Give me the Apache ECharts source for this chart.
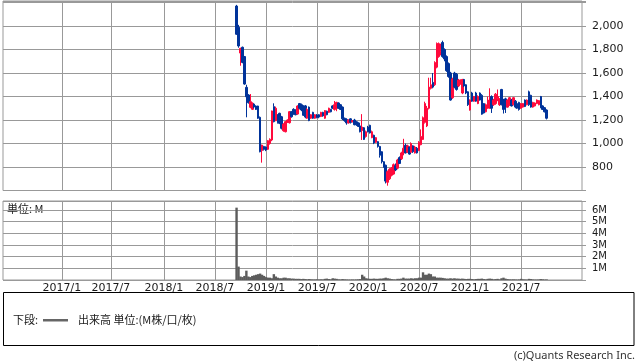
<!DOCTYPE html>
<html><head><meta charset="utf-8">
<script src="https://cdn.jsdelivr.net/npm/echarts@6/dist/echarts.min.js"></script>
<style>html,body{margin:0;padding:0;background:#fff}#c{width:638px;height:362px}</style>
</head><body><div id="c"></div>
<script>
// weekly slots of the x axis
const axisStart = '2016-06-08';
const weekCount = 296;
const firstCandleWeek = '2018-09-19';
const tickLabels = ['2017/1','2017/7','2018/1','2018/7','2019/1','2019/7','2020/1','2020/7','2021/1','2021/7'];
const priceLabels = [800, 1000, 1200, 1400, 1600, 1800, 2000];
const volumeLabels = [1, 2, 3, 4, 5, 6];

// weekly OHLC (yen) and volume (M)
const opens = [2170,1990,1770,1819,1740,1478,1413,1308,1291,1336,1319,1319,1223,940,975,970,951,1000,1030,1314,1194,1243,1257,1228,1109,1100,1180,1177,1271,1291,1285,1251,1340,1330,1320,1320,1215,1310,1215,1265,1215,1243,1245,1230,1265,1215,1275,1265,1290,1320,1290,1300,1345,1330,1310,1215,1205,1175,1210,1185,1200,1185,1175,1150,1110,1134,1060,1140,1155,1050,1070,1010,1016,975,930,845,815,670,700,730,740,810,790,880,870,920,985,925,970,925,980,920,960,940,990,1035,1180,1150,1300,1470,1520,1500,1650,1740,1780,1860,1800,1740,1680,1600,1390,1600,1590,1490,1510,1430,1545,1500,1440,1285,1430,1360,1430,1340,1430,1410,1340,1270,1300,1300,1400,1330,1340,1380,1330,1460,1370,1380,1310,1330,1370,1330,1360,1340,1350,1300,1310,1370,1330,1440,1410,1310,1320,1340,1330,1400,1320,1305,1285];
const closes = [1930,1830,1810,1690,1506,1398,1347,1356,1342,1310,1290,1215,930,987,950,945,1024,1036,1277,1186,1300,1177,1172,1129,1166,1186,1200,1271,1228,1251,1245,1319,1300,1285,1240,1225,1290,1195,1245,1215,1245,1220,1225,1265,1235,1280,1245,1300,1270,1300,1330,1350,1300,1290,1210,1195,1175,1200,1180,1195,1160,1160,1145,1100,1140,1035,1100,1100,1090,1100,1005,1050,975,900,845,800,680,760,780,790,820,775,860,830,920,960,920,980,910,1000,930,970,920,1010,1060,1220,1340,1300,1480,1500,1480,1690,1850,1850,1810,1740,1720,1620,1570,1370,1550,1480,1460,1540,1540,1545,1490,1430,1330,1370,1360,1400,1360,1400,1370,1250,1260,1330,1370,1390,1300,1370,1420,1400,1380,1330,1290,1310,1370,1390,1320,1390,1310,1300,1290,1340,1340,1315,1370,1330,1310,1350,1345,1370,1365,1310,1290,1270,1215];
const lows = [1925,1815,1662,1683,1500,1223,1340,1300,1285,1300,1285,1210,925,837,940,935,945,990,1020,1180,1190,1170,1165,1120,1100,1095,1175,1170,1220,1245,1240,1245,1290,1275,1235,1215,1210,1190,1210,1210,1210,1215,1215,1225,1228,1210,1240,1260,1265,1295,1280,1275,1295,1285,1200,1185,1160,1170,1170,1180,1155,1150,1140,1095,1030,1030,1050,1095,1085,1045,995,1005,965,880,830,795,660,641,690,720,735,765,780,825,860,900,915,920,905,920,920,915,915,935,985,1030,1170,1140,1290,1460,1470,1490,1640,1730,1750,1730,1700,1610,1560,1365,1380,1470,1450,1480,1500,1420,1480,1420,1320,1280,1355,1355,1355,1335,1365,1245,1255,1265,1295,1295,1260,1320,1330,1360,1320,1325,1255,1260,1305,1320,1315,1325,1300,1295,1280,1295,1305,1310,1325,1320,1305,1305,1315,1335,1325,1300,1285,1265,1205];
const highs = [2180,2010,1815,1825,1745,1500,1420,1421,1350,1340,1325,1322,1230,990,980,975,1030,1044,1280,1342,1314,1250,1262,1235,1172,1190,1205,1275,1275,1300,1290,1325,1345,1340,1325,1328,1300,1315,1250,1270,1250,1250,1250,1270,1270,1285,1280,1305,1295,1325,1362,1355,1350,1335,1315,1220,1215,1205,1215,1200,1210,1190,1180,1160,1250,1140,1110,1150,1160,1110,1075,1055,1020,980,935,850,820,770,790,800,830,830,870,890,930,1040,1000,990,975,1010,985,980,970,1020,1120,1230,1356,1320,1560,1560,1600,1700,1860,1860,1850,1875,1810,1750,1690,1610,1560,1610,1600,1550,1545,1550,1550,1505,1445,1375,1440,1405,1440,1410,1435,1420,1345,1340,1400,1470,1410,1380,1430,1460,1385,1465,1380,1390,1375,1395,1380,1395,1370,1350,1355,1345,1345,1375,1375,1450,1415,1355,1350,1375,1370,1405,1325,1310,1290];
const volumes = [6.2,1.15,0.3,0.25,0.35,0.8,0.3,0.25,0.35,0.4,0.45,0.5,0.55,0.45,0.35,0.25,0.2,0.2,0.15,0.5,0.3,0.2,0.15,0.15,0.2,0.2,0.15,0.15,0.12,0.12,0.1,0.1,0.1,0.08,0.1,0.08,0.06,0.08,0.06,0.05,0.05,0.06,0.05,0.06,0.05,0.1,0.12,0.08,0.06,0.15,0.12,0.1,0.06,0.05,0.08,0.06,0.05,0.04,0.04,0.05,0.04,0.05,0.06,0.08,0.45,0.3,0.15,0.12,0.1,0.1,0.12,0.1,0.1,0.12,0.12,0.15,0.2,0.15,0.12,0.08,0.06,0.05,0.1,0.1,0.12,0.2,0.12,0.12,0.12,0.15,0.12,0.15,0.15,0.2,0.2,0.66,0.45,0.45,0.55,0.5,0.3,0.3,0.2,0.2,0.2,0.18,0.15,0.12,0.12,0.15,0.12,0.15,0.12,0.12,0.1,0.12,0.1,0.08,0.1,0.1,0.08,0.06,0.08,0.1,0.1,0.12,0.08,0.06,0.1,0.12,0.1,0.06,0.08,0.1,0.06,0.15,0.2,0.12,0.08,0.06,0.05,0.06,0.05,0.04,0.05,0.1,0.06,0.05,0.04,0.1,0.08,0.05,0.04,0.04,0.05,0.08,0.06,0.04,0.05];

const DAY = 864e5;
function utc(s){ const p = s.split(/[-\/]/).map(Number); return Date.UTC(p[0], p[1]-1, p[2]||1); }
const t0 = utc(axisStart);
function weekIndex(s){ return Math.round((utc(s) - t0) / (7*DAY)); }
const cats = [];
for (let k = 0; k < weekCount; k++) {
  const d = new Date(t0 + k*7*DAY);
  cats.push(d.getUTCFullYear() + '/' + (d.getUTCMonth()+1) + '/' + d.getUTCDate());
}
const labelAt = {};
tickLabels.forEach(l => { labelAt[weekIndex(l)] = l; });
const isTick = (i) => labelAt[i] !== undefined;
const k0 = weekIndex(firstCandleWeek);
const candleData = cats.map((c, k) => {
  const i = k - k0;
  return (i >= 0 && i < opens.length) ? [opens[i], closes[i], lows[i], highs[i]] : '-';
});
const volData = cats.map((c, k) => {
  const i = k - k0;
  return (i >= 0 && i < volumes.length) ? volumes[i] : '-';
});

const RED = '#ff0a3c', BLUE = '#00339a', GRID = '#999999', TXT = '#1a1a1a';
const numFont = 'DejaVu Sans';
const jpFont = '"Noto Sans CJK JP", "Noto Sans", sans-serif';

const chart = echarts.init(document.getElementById('c'), null, {renderer: 'canvas'});
chart.setOption({
  animation: false,
  backgroundColor: '#fff',
  grid: [
    {left: 3, top: 1, width: 579, height: 189.5, show: true, borderColor: GRID, borderWidth: 1, backgroundColor: 'transparent'},
    {left: 3, top: 201, width: 579, height: 79, show: true, borderColor: GRID, borderWidth: 1, backgroundColor: 'transparent'}
  ],
  xAxis: [
    {type: 'category', gridIndex: 0, data: cats, boundaryGap: false,
     axisLine: {show: false}, axisTick: {show: false}, axisLabel: {show: false},
     splitLine: {show: true, interval: (i) => isTick(i), lineStyle: {color: GRID, width: 1}}},
    {type: 'category', gridIndex: 1, data: cats, boundaryGap: false,
     axisLine: {show: false}, axisTick: {show: false},
     axisLabel: {show: true, interval: (i) => isTick(i), formatter: (v, i) => labelAt[i] || '',
                 margin: 3, fontSize: 11, color: TXT, fontFamily: numFont},
     splitLine: {show: true, interval: (i) => isTick(i), lineStyle: {color: GRID, width: 1}}}
  ],
  yAxis: [
    {type: 'value', gridIndex: 0, position: 'right', min: 600, max: 2213, interval: 200,
     axisLine: {show: false}, axisTick: {show: true, length: 4, lineStyle: {color: GRID}},
     axisLabel: {margin: 10, fontSize: 11, color: TXT, fontFamily: numFont,
                 formatter: (v) => priceLabels.indexOf(v) >= 0 ? v.toLocaleString('en-US') : ''},
     splitLine: {show: true, lineStyle: {color: GRID, width: 1}}},
    {type: 'value', gridIndex: 1, position: 'right', min: 0, max: 6.77, interval: 1,
     axisLine: {show: false}, axisTick: {show: true, length: 4, lineStyle: {color: GRID}},
     axisLabel: {margin: 10, fontSize: 10, color: TXT, fontFamily: numFont,
                 formatter: (v) => volumeLabels.indexOf(v) >= 0 ? v + 'M' : ''},
     splitLine: {show: true, lineStyle: {color: GRID, width: 1}}}
  ],
  series: [
    {type: 'candlestick', xAxisIndex: 0, yAxisIndex: 0, data: candleData, barWidth: 2,
     itemStyle: {color: RED, color0: BLUE, borderColor: RED, borderColor0: BLUE, borderWidth: 1}},
    {type: 'bar', xAxisIndex: 1, yAxisIndex: 1, data: volData, barWidth: 2.4,
     itemStyle: {color: '#5c5c5c'}}
  ],
  graphic: [
    {type: 'text', left: 7, top: 203, style: {text: '単位: M', font: '11px ' + jpFont, fill: TXT}},
    {type: 'rect', shape: {x: 3.5, y: 292.5, width: 630.5, height: 53}, style: {fill: 'none', stroke: '#000', lineWidth: 1}},
    {type: 'text', x: 13, y: 320, style: {text: '下段:', font: '11px ' + jpFont, fill: TXT, verticalAlign: 'middle'}},
    {type: 'rect', shape: {x: 43, y: 319, width: 25, height: 2.5}, style: {fill: '#666'}},
    {type: 'text', x: 78, y: 320, style: {text: '出来高 単位:(M株/口/枚)', font: '11px ' + jpFont, fill: TXT, verticalAlign: 'middle'}},
    {type: 'text', x: 635, y: 356, style: {text: '(c)Quants Research Inc.', font: '11px "Noto Sans", sans-serif', fill: '#333', align: 'right', verticalAlign: 'middle'}}
  ]
});
</script>
</body></html>
